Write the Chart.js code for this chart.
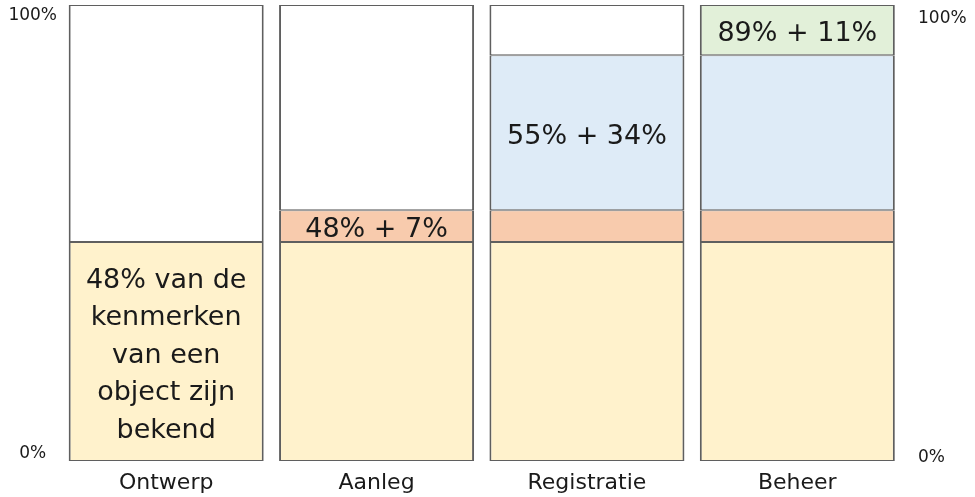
<!DOCTYPE html>
<html>
<head>
<meta charset="utf-8">
<script src="https://cdn.jsdelivr.net/npm/chart.js@4"></script>
<style>
  html, body { margin: 0; padding: 0; background: #fff; }
  #wrap { width: 975px; height: 497px; }
</style>
</head>
<body>
<div id="wrap"><canvas id="myChart" width="975" height="497"></canvas></div>
<script>
// categories along the x axis
const phases = ["Ontwerp", "Aanleg", "Registratie", "Beheer"];

// stacked shares in percent, bottom to top
const known_design = [48, 48, 48, 48];
const known_build = [0, 7, 7, 7];
const known_register = [0, 0, 34, 34];
const known_manage = [0, 0, 0, 11];
const unknown_rest = [52, 45, 11, 0];

// texts written inside the segments
const design_text = ["48% van de\nkenmerken\nvan een\nobject zijn\nbekend", "", "", ""];
const build_text = ["", "48% + 7%", "", ""];
const register_text = ["", "", "55% + 34%", ""];
const manage_text = ["", "", "", "89% + 11%"];

// corner labels of the vertical scale
const y_tick_values = [0, 100];
const y_tick_labels = ["0%", "100%"];

const FONT = "'DejaVu Sans', sans-serif";
const EDGE = "#5f5f5f";

let segment = (label, data, color, texts) => ({
  label: label,
  data: data,
  texts: texts,
  backgroundColor: color,
  borderColor: EDGE,
  borderWidth: { left: 2, right: 2, top: 1, bottom: 1 },
  borderSkipped: false,
  barPercentage: 0.927,
  categoryPercentage: 1.0,
  yAxisID: "y",
});

// writes the segment texts in the middle of each bar piece
const segment_text = {
  id: "segment_text",
  afterDatasetsDraw(chart) {
    const ctx = chart.ctx;
    ctx.save();
    ctx.font = "27px " + FONT;
    ctx.fillStyle = "#1a1a1a";
    ctx.textAlign = "center";
    ctx.textBaseline = "middle";
    chart.data.datasets.forEach((ds, di) => {
      if (!ds.texts) return;
      const meta = chart.getDatasetMeta(di);
      meta.data.forEach((bar, i) => {
        const txt = ds.texts[i];
        if (!txt) return;
        const lines = txt.split("\n");
        const lh = 37.5;
        const mid = (bar.y + bar.base) / 2;
        const start = mid - ((lines.length - 1) * lh) / 2 + 4;
        lines.forEach((line, li) => {
          ctx.fillText(line, bar.x, start + li * lh);
        });
      });
    });
    ctx.restore();
  },
};

let corner_axis = (position, min, max, align, pad) => ({
  type: "linear",
  position: position,
  min: min,
  max: max,
  grid: { display: false, drawTicks: false },
  border: { display: false },
  afterBuildTicks: (scale) => {
    scale.ticks = y_tick_values.map((v) => ({ value: v }));
  },
  afterFit: (scale) => {
    scale.width = position === "left" ? 61 : 72.5;
    scale.paddingTop = 0;
    scale.paddingBottom = 0;
  },
  ticks: {
    padding: pad,
    crossAlign: align,
    color: "#1a1a1a",
    font: { family: FONT, size: 17 },
    callback: (value) => y_tick_labels[y_tick_values.indexOf(value)],
  },
});

const ctx = document.getElementById("myChart").getContext("2d");

const myChart = new Chart(ctx, {
  type: "bar",
  data: {
    labels: phases,
    datasets: [
      segment("Ontwerp", known_design, "#FFF2CC", design_text),
      segment("Aanleg", known_build, "#F8CBAD", build_text),
      segment("Registratie", known_register, "#DEEBF7", register_text),
      segment("Beheer", known_manage, "#E2F0D9", manage_text),
      segment("Onbekend", unknown_rest, "#FFFFFF", null),
    ],
  },
  plugins: [segment_text],
  options: {
    responsive: false,
    animation: false,
    layout: { padding: { top: 5, left: 0, right: 0, bottom: 0 } },
    plugins: {
      legend: { display: false },
      tooltip: { enabled: false },
    },
    scales: {
      x: {
        stacked: true,
        grid: { display: false, drawTicks: false },
        border: { display: false },
        afterFit: (scale) => {
          scale.height = 36;
          scale.paddingLeft = 0;
          scale.paddingRight = 0;
        },
        ticks: {
          padding: 9,
          color: "#1a1a1a",
          font: { family: FONT, size: 22 },
        },
      },
      y: {
        stacked: true,
        min: 0,
        max: 100,
        display: false,
      },
      yl: corner_axis("left", -1.6, 102.3, "center", 4),
      yr: corner_axis("right", -0.8, 103.1, "near", 15.5),
    },
  },
});
</script>
</body>
</html>
